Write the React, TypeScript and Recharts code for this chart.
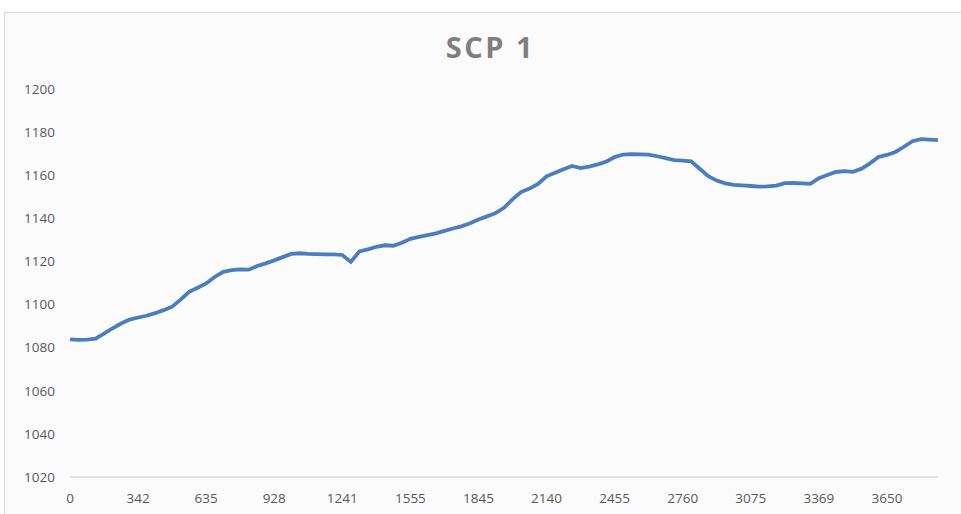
import { LineChart, Line, XAxis, YAxis } from "recharts";

// category labels shown every 8th sample
const X_LABELS = ["0", "342", "635", "928", "1241", "1555", "1845", "2140", "2455", "2760", "3075", "3369", "3650"];
const POINTS_PER_LABEL = 8;
const Y_TICKS = [1020, 1040, 1060, 1080, 1100, 1120, 1140, 1160, 1180, 1200];

// SCP 1 readings
const SCP1 = [
  1083.8, 1083.6, 1083.7, 1084.2, 1086.5, 1089.0, 1091.2, 1093.0,
  1094.0, 1094.8, 1096.0, 1097.4, 1099.0, 1102.3, 1105.9, 1107.8,
  1109.8, 1112.8, 1115.2, 1116.0, 1116.3, 1116.2, 1117.9, 1119.1,
  1120.5, 1122.0, 1123.5, 1123.8, 1123.5, 1123.4, 1123.3, 1123.3,
  1123.0, 1119.8, 1124.6, 1125.6, 1126.8, 1127.5, 1127.3, 1128.7,
  1130.5, 1131.4, 1132.2, 1133.0, 1134.2, 1135.3, 1136.3, 1137.7,
  1139.5, 1140.9, 1142.4, 1144.9, 1148.8, 1152.2, 1153.8, 1156.0,
  1159.5, 1161.1, 1162.8, 1164.3, 1163.3, 1164.0, 1165.0, 1166.3,
  1168.4, 1169.6, 1169.8, 1169.7, 1169.6, 1168.8, 1167.9, 1167.0,
  1166.8, 1166.4, 1163.0, 1159.6, 1157.5, 1156.2, 1155.5, 1155.3,
  1155.0, 1154.7, 1154.8, 1155.2, 1156.3, 1156.4, 1156.2, 1156.0,
  1158.6, 1160.1, 1161.5, 1161.9, 1161.6, 1163.0, 1165.5, 1168.5,
  1169.4, 1170.8, 1173.2, 1175.8, 1176.7, 1176.5, 1176.3,
];

const data = SCP1.map((v, i) => ({ i, v }));
const xTicks = X_LABELS.map((_, k) => k * POINTS_PER_LABEL);

const tickStyle = { fontFamily: "'Open Sans', sans-serif", fontSize: 13.5, fill: "#595959" };

export default function App() {
  return (
    <div
      style={{
        position: "fixed",
        left: 4,
        top: 12,
        width: 975,
        height: 520,
        border: "1px solid #d9d9d9",
        background: "#fbfbfb",
        boxSizing: "border-box",
      }}
    >
      <div
        style={{
          position: "absolute",
          left: 0,
          top: 18,
          width: 961,
          textAlign: "center",
          fontFamily: "'Open Sans', sans-serif",
          fontWeight: 700,
          fontSize: 29,
          lineHeight: "32px",
          letterSpacing: 2.5,
          color: "#7f7f7f",
          transform: "translateX(5px)",
        }}
      >
        SCP 1
      </div>
      <LineChart
        width={960}
        height={505}
        data={data}
        margin={{ top: 76, right: 27, left: 5, bottom: 11 }}
      >
        <XAxis
          dataKey="i"
          type="category"
          scale="point"
          ticks={xTicks}
          interval={0}
          tickFormatter={(v) => X_LABELS[Number(v) / POINTS_PER_LABEL] ?? ""}
          tick={tickStyle}
          tickLine={false}
          tickMargin={10}
          axisLine={{ stroke: "#d9d9d9", strokeWidth: 1.5 }}
          height={30}
        />
        <YAxis
          domain={[1020, 1200]}
          ticks={Y_TICKS}
          interval={0}
          tick={tickStyle}
          tickLine={false}
          tickMargin={9}
          axisLine={false}
          width={60}
        />
        <Line
          type="linear"
          dataKey="v"
          stroke="#4a7ebf"
          strokeWidth={3.8}
          dot={false}
          isAnimationActive={false}
        />
      </LineChart>
    </div>
  );
}
